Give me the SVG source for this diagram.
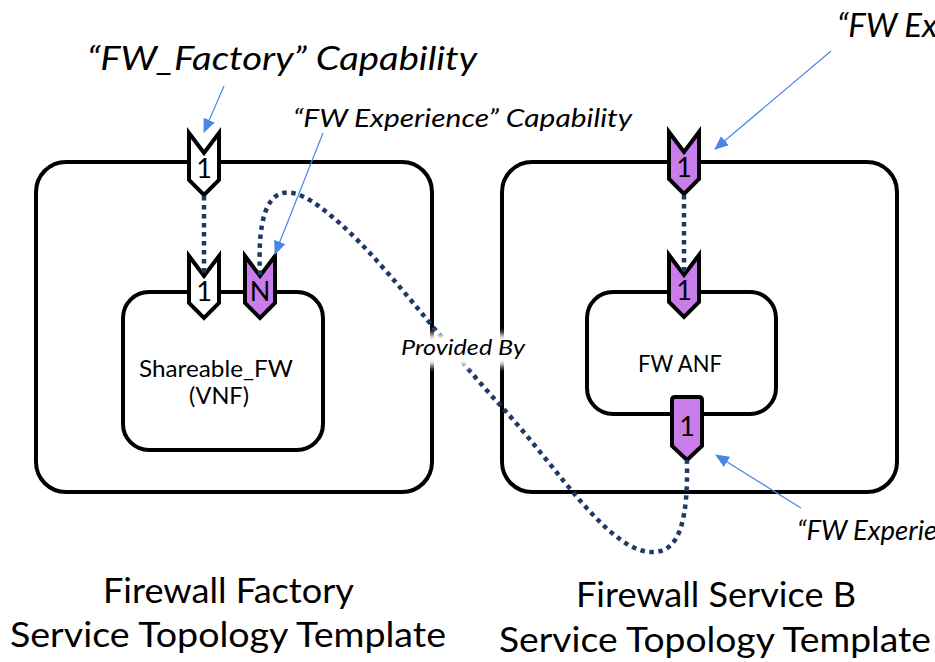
<svg xmlns="http://www.w3.org/2000/svg" xmlns:xlink="http://www.w3.org/1999/xlink" width="935" height="662" viewBox="0 0 935 662">
  <defs>
    <style>
      .box { fill: #fff; stroke: #000; stroke-width: 4; }
      .cap { stroke: #000; stroke-width: 4; stroke-linejoin: miter; }
      .plain { fill: #fff; }
      .violet { fill: #c97de9; }
      .dots { fill: none; stroke: #1f3864; stroke-width: 4.5; stroke-dasharray: 4.5 4.5; }
      .ptr { fill: none; stroke: #4a86e8; stroke-width: 1.2; marker-end: url(#tip); }
      text { font-family: Lato, "Liberation Sans", sans-serif; fill: #000; }
      .it { font-style: italic; }
      .num { font-size: 27px; text-anchor: middle; }
      .lbl { font-size: 23.5px; text-anchor: middle; }
      .big { font-size: 35px; text-anchor: middle; }
    </style>
    <!-- requirement socket: notched top, pointed bottom -->
    <path id="socket" d="M-15,0 L0,20 L15,0 L15,47 L0,62 L-15,47 Z"/>
    <!-- capability tab: flat top, pointed bottom -->
    <path id="tab" d="M-15,3 Q-15,0 -12,0 L12,0 Q15,0 15,3 L15,49 L0,63 L-15,49 Z"/>
    <marker id="tip" markerUnits="userSpaceOnUse" markerWidth="14" markerHeight="12" refX="13" refY="6" orient="auto">
      <path d="M0,0 L14,6 L0,12 Z" fill="#4a86e8"/>
    </marker>
    <filter id="soft" x="-20%" y="-40%" width="140%" height="180%">
      <feGaussianBlur stdDeviation="3"/>
    </filter>
  </defs>

  <!-- Firewall Factory template -->
  <g id="factory-template">
    <rect class="box" x="36" y="162" width="396" height="330" rx="30"/>
  </g>
  <g id="shareable-fw">
    <rect class="box" x="123" y="292" width="200" height="158" rx="26"/>
    <text class="lbl" x="216" y="377" textLength="154" lengthAdjust="spacingAndGlyphs">Shareable_FW</text>
    <text class="lbl" x="219" y="404">(VNF)</text>
  </g>

  <!-- Firewall Service B template -->
  <g id="service-b-template">
    <rect class="box" x="502" y="162" width="395" height="330" rx="30"/>
  </g>
  <g id="fw-anf">
    <rect class="box" x="587" y="292" width="189" height="122" rx="26"/>
    <text class="lbl" x="680" y="372" textLength="84" lengthAdjust="spacingAndGlyphs">FW ANF</text>
  </g>

  <!-- sockets and tabs -->
  <g id="factory-cap">
    <use xlink:href="#socket" href="#socket" class="cap plain" x="204" y="133"/>
    <text class="num" x="204" y="178">1</text>
  </g>
  <g id="shareable-cap">
    <use xlink:href="#socket" href="#socket" class="cap plain" x="204" y="256"/>
    <text class="num" x="204" y="301">1</text>
  </g>
  <g id="shareable-exp">
    <use xlink:href="#socket" href="#socket" class="cap violet" x="260" y="256"/>
    <text class="num" x="260" y="301">N</text>
  </g>
  <g id="serviceb-cap">
    <use xlink:href="#socket" href="#socket" class="cap violet" x="684" y="132"/>
    <text class="num" x="684" y="177">1</text>
  </g>
  <g id="anf-cap">
    <use xlink:href="#socket" href="#socket" class="cap violet" x="684" y="255"/>
    <text class="num" x="684" y="300">1</text>
  </g>
  <g id="anf-req">
    <use xlink:href="#tab" href="#tab" class="cap violet" x="687" y="397"/>
    <text class="num" x="687" y="436">1</text>
  </g>

  <!-- connectors -->
  <g id="connectors">
    <path class="dots" d="M204,196 L204,275"/>
    <path class="dots" d="M684,195 L684,274"/>
    <path class="dots" d="M260,275 C256,190 280,172 330,215 C380,255 440,340 500,405 C560,470 610,555 655,552 C680,550 688,520 687,460"/>
    <line class="ptr" x1="224" y1="86" x2="204" y2="132"/>
    <line class="ptr" x1="323" y1="133" x2="275" y2="254"/>
    <line class="ptr" x1="831" y1="51" x2="715" y2="149"/>
    <line class="ptr" x1="801" y1="508" x2="716" y2="455"/>
  </g>

  <!-- connector label with a soft white backing -->
  <g id="provided-by">
    <rect x="394" y="334" width="138" height="32" fill="#fff" filter="url(#soft)"/>
    <text class="it" x="401" y="355" font-size="22" textLength="124" lengthAdjust="spacingAndGlyphs">Provided By</text>
  </g>

  <!-- callouts -->
  <g id="callouts">
    <text class="it" x="87" y="70" font-size="32" textLength="390" lengthAdjust="spacingAndGlyphs">“FW_Factory” Capability</text>
    <text class="it" x="293" y="127" font-size="26" textLength="339" lengthAdjust="spacingAndGlyphs">“FW Experience” Capability</text>
    <text class="it" x="837" y="37" font-size="33">“FW Ex</text>
    <text class="it" x="797" y="540" font-size="27.5">“FW Experie</text>
  </g>

  <!-- template captions -->
  <g id="captions">
    <text class="big" x="228.5" y="603" textLength="251" lengthAdjust="spacingAndGlyphs">Firewall Factory</text>
    <text class="big" x="228" y="647" textLength="436" lengthAdjust="spacingAndGlyphs">Service Topology Template</text>
    <text class="big" x="716" y="607" textLength="280" lengthAdjust="spacingAndGlyphs">Firewall Service B</text>
    <text class="big" x="715" y="652" textLength="432" lengthAdjust="spacingAndGlyphs">Service Topology Template</text>
  </g>
</svg>
